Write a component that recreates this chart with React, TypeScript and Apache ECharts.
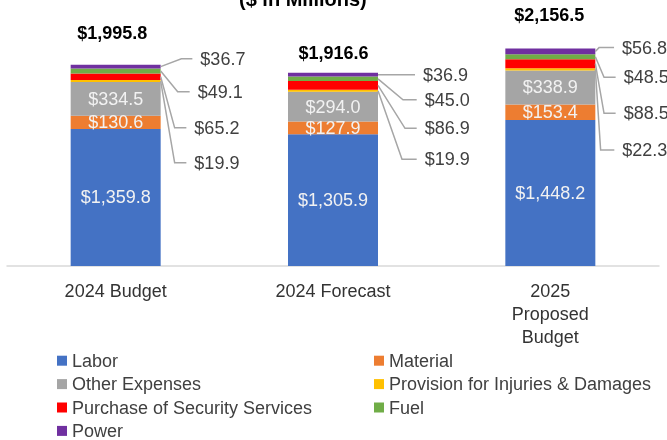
import React, { useEffect, useRef } from "react";
import * as echarts from "echarts";

const categories = ["2024 Budget", "2024 Forecast", "2025 Proposed Budget"];
const labor = [1359.8, 1305.9, 1448.2];
const material = [130.6, 127.9, 153.4];
const otherExpenses = [334.5, 294.0, 338.9];
const provision = [19.9, 19.9, 22.3];
const security = [65.2, 86.9, 88.5];
const fuel = [49.1, 45.0, 48.5];
const power = [36.7, 36.9, 56.8];
const totals = [1995.8, 1916.6, 2156.5];

const FONT = "'Liberation Sans', Arial, sans-serif";
const BAR_WIDTH = 90;

const seriesDefs = [
  { name: "Labor", data: labor, color: "#4472c4", inside: true },
  { name: "Material", data: material, color: "#ed7d31", inside: true },
  { name: "Other Expenses", data: otherExpenses, color: "#a5a5a5", inside: true },
  { name: "Provision for Injuries & Damages", data: provision, color: "#ffc000", inside: false },
  { name: "Purchase of Security Services", data: security, color: "#ff0000", inside: false },
  { name: "Fuel", data: fuel, color: "#70ad47", inside: false },
  { name: "Power", data: power, color: "#7030a0", inside: false },
];

// callout order top -> bottom: Power, Fuel, Security, Provision (indices in seriesDefs)
const calloutOrder = [6, 5, 4, 3];

// layout of callouts per category (pixel offsets from bar right edge / bar top)
const calloutLayout = [
  { bend: [20.7, 17, 14, 14], end: [31.7, 29, 25.7, 25.7], dy: [-6, 27, 63, 98], tdx: -3.5, tdy: -32 },
  { bend: [20, 25, 27, 24], end: [37, 38.7, 38.7, 38.7], dy: [2, 27, 55.5, 86.5], tdx: 0.5, tdy: -19.5 },
  { bend: [3.7, 8.7, 8.7, 5.3], end: [18.7, 20.3, 20.3, 19], dy: [-1, 28.7, 64.7, 101.4], tdx: -1, tdy: -33.6 },
];

const fmt = (v: number) =>
  "$" + v.toLocaleString("en-US", { minimumFractionDigits: 1, maximumFractionDigits: 1 });

export default function App() {
  const ref = useRef<HTMLDivElement>(null);

  useEffect(() => {
    if (!ref.current) return;
    const chart = echarts.init(ref.current, null, { renderer: "svg" });

    const barSeries = seriesDefs.map((s) => ({
      name: s.name,
      type: "bar",
      stack: "total",
      barWidth: BAR_WIDTH,
      data: s.data,
      itemStyle: { color: s.color },
      label: s.inside
        ? {
            show: true,
            position: "inside",
            formatter: (p: any) => fmt(p.value),
            color: "#f2f2f2",
            fontSize: 18,
            fontFamily: FONT,
          }
        : { show: false },
      emphasis: { disabled: true },
    }));

    const calloutSeries = {
      type: "custom",
      name: "callouts",
      silent: true,
      clip: false,
      z: 10,
      data: categories.map((_, i) => [i, totals[i]]),
      encode: { x: 0, y: 1 },
      renderItem: (params: any, api: any) => {
        const i = params.dataIndex;
        const L = calloutLayout[i];
        const vals = seriesDefs.map((s) => s.data[i]);
        const sumTop = vals.reduce((a, b) => a + b, 0);
        const topPt = api.coord([i, sumTop]);
        const cx = topPt[0];
        const topY = topPt[1];
        const right = cx + BAR_WIDTH / 2;
        const children: any[] = [];
        calloutOrder.forEach((si, k) => {
          const below = vals.slice(0, si).reduce((a, b) => a + b, 0);
          const mid = below + vals[si] / 2;
          const segY = api.coord([i, mid])[1];
          const ly = topY + L.dy[k];
          children.push({
            type: "polyline",
            shape: {
              points: [
                [right, segY],
                [right + L.bend[k], ly],
                [right + L.end[k], ly],
              ],
            },
            style: { stroke: "#a6a6a6", lineWidth: 1.5, fill: null },
          });
          children.push({
            type: "text",
            style: {
              text: fmt(vals[si]),
              x: right + L.end[k] + 8,
              y: ly,
              fill: "#404040",
              fontSize: 18,
              fontFamily: FONT,
              align: "left",
              verticalAlign: "middle",
            },
          });
        });
        children.push({
          type: "text",
          style: {
            text: fmt(api.value(1)),
            x: cx + L.tdx,
            y: topY + L.tdy,
            fill: "#000000",
            fontSize: 18,
            fontWeight: "bold",
            fontFamily: FONT,
            align: "center",
            verticalAlign: "middle",
          },
        });
        return { type: "group", children };
      },
    };

    const legendCommon = {
      orient: "vertical",
      top: 351.7,
      height: 100,
      padding: 0,
      itemWidth: 10,
      itemHeight: 10,
      itemGap: 5.4,
      icon: "rect",
      selectedMode: false,
      textStyle: { color: "#404040", fontSize: 18, fontFamily: FONT, lineHeight: 18 },
    };

    chart.setOption({
      animation: false,
      textStyle: { fontFamily: FONT },
      title: {
        text: "($ in Millions)",
        left: 234,
        top: -16,
        padding: 5,
        textStyle: { fontSize: 20, fontWeight: "bold", color: "#000", fontFamily: FONT },
      },
      legend: [
        {
          ...legendCommon,
          left: 57,
          data: ["Labor", "Other Expenses", "Purchase of Security Services", "Power"],
        },
        {
          ...legendCommon,
          left: 374,
          data: ["Material", "Provision for Injuries & Damages", "Fuel"],
        },
      ],
      grid: { left: 7, right: 8, top: 14, bottom: 174, containLabel: false },
      xAxis: {
        type: "category",
        data: categories,
        axisLine: { lineStyle: { color: "#d9d9d9", width: 1.5 } },
        axisTick: { show: false },
        axisLabel: {
          color: "#333333",
          fontSize: 18,
          fontFamily: FONT,
          lineHeight: 23,
          margin: 13,
          interval: 0,
          formatter: (v: string) => (v.length > 14 ? v.split(" ").join("\n") : v),
        },
      },
      yAxis: {
        type: "value",
        min: 0,
        max: 2500,
        show: false,
        splitLine: { show: false },
      },
      series: [...barSeries, calloutSeries],
    });

    return () => chart.dispose();
  }, []);

  return (
    <div
      ref={ref}
      style={{ position: "fixed", left: 0, top: 0, width: 667, height: 440 }}
    />
  );
}
